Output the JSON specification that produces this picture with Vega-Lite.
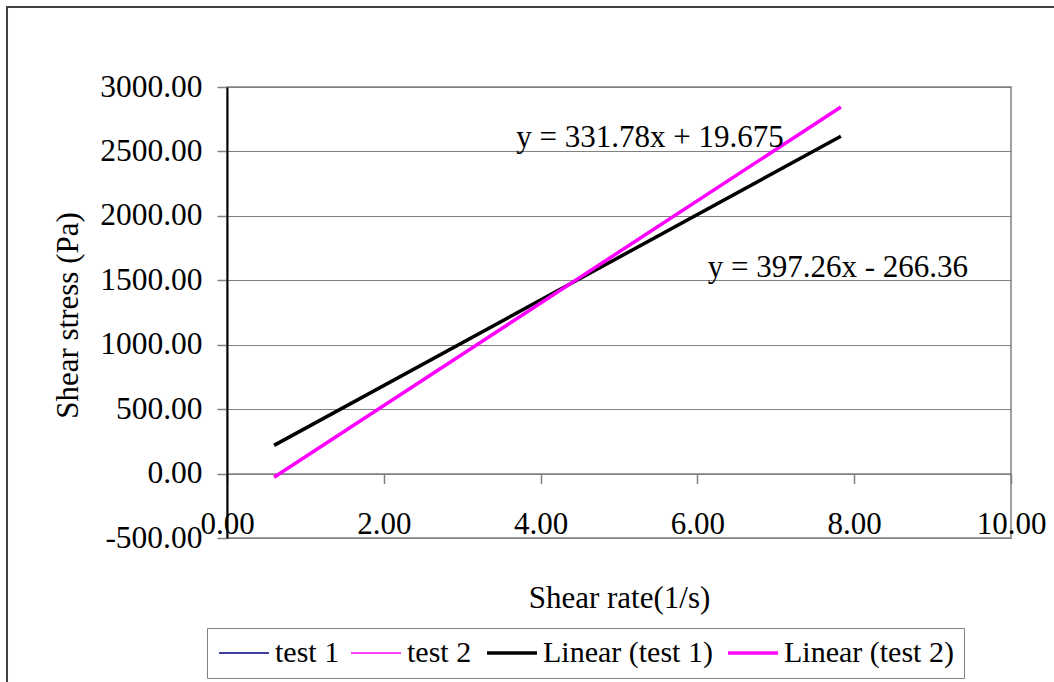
{
  "$schema": "https://vega.github.io/schema/vega-lite/v6.json",
  "width": 784,
  "height": 451,
  "autosize": {"type": "none"},
  "padding": {"left": 227, "top": 87, "right": 43, "bottom": 144},
  "background": "white",
  "config": {
    "view": {"stroke": "#808080", "strokeWidth": 1.5},
    "font": "Liberation Serif"
  },
  "datasets": {
    "trend": [
      {"series": "Linear (test 1)", "rate": 0.6, "stress": 218.7},
      {"series": "Linear (test 1)", "rate": 7.83, "stress": 2617.5},
      {"series": "Linear (test 2)", "rate": 0.6, "stress": -28.0},
      {"series": "Linear (test 2)", "rate": 7.83, "stress": 2844.2}
    ],
    "labels": [
      {"text": "y = 331.78x + 19.675", "rate": 5.395, "stress": 2534.6},
      {"text": "y = 397.26x - 266.36", "rate": 7.793, "stress": 1525.7}
    ]
  },
  "layer": [
    {
      "data": {"values": [{}]},
      "mark": {"type": "rect", "fillOpacity": 0, "stroke": "#404040", "strokeWidth": 2, "clip": false},
      "encoding": {
        "x": {"datum": -2.806, "type": "quantitative", "scale": {"domain": [0, 10], "nice": false}},
        "x2": {"datum": 11.5},
        "y": {"datum": 3621, "type": "quantitative"},
        "y2": {"datum": -1900}
      }
    },
    {
      "data": {"name": "trend"},
      "mark": {"type": "line", "strokeCap": "butt", "strokeWidth": 3.5},
      "encoding": {
        "x": {
          "field": "rate", "type": "quantitative",
          "scale": {"domain": [0, 10], "nice": false, "zero": false},
          "axis": {
            "orient": "bottom",
            "offset": -64.4,
            "values": [0, 2, 4, 6, 8, 10],
            "labelExpr": "replace(format(datum.value, '.2f'), '\u2212', '-')",
            "grid": false,
            "domainColor": "#808080",
            "domainWidth": 1.5,
            "tickColor": "#808080",
            "tickWidth": 1.5,
            "tickSize": 10,
            "labelFont": "Liberation Serif",
            "labelFontSize": 31,
            "labelColor": "black",
            "labelBaseline": "alphabetic",
            "labelPadding": 50,
            "labelFlush": false,
            "labelOverlap": false,
            "title": "Shear rate(1/s)",
            "titleFont": "Liberation Serif",
            "titleFontSize": 31,
            "titleFontWeight": "normal",
            "titleColor": "black",
            "titleBaseline": "alphabetic",
            "titleX": 392,
            "titleY": 133.4
          }
        },
        "y": {
          "field": "stress", "type": "quantitative",
          "scale": {"domain": [-500, 3000], "nice": false, "zero": false},
          "axis": {
            "values": [-500, 0, 500, 1000, 1500, 2000, 2500, 3000],
            "labelExpr": "replace(format(datum.value, '.2f'), '\u2212', '-')",
            "grid": true,
            "gridColor": "#808080",
            "gridWidth": 1.2,
            "domainColor": "black",
            "domainWidth": 2,
            "tickColor": "#808080",
            "tickWidth": 1.5,
            "tickSize": 10,
            "labelFont": "Liberation Serif",
            "labelFontSize": 31.5,
            "labelColor": "black",
            "labelPadding": 15,
            "labelOverlap": false,
            "labelFlush": false,
            "title": "Shear stress (Pa)",
            "titleFont": "Liberation Serif",
            "titleFontSize": 31,
            "titleFontWeight": "normal",
            "titleColor": "black",
            "titleBaseline": "alphabetic",
            "titleAngle": -90,
            "titleX": -150,
            "titleY": 228
          }
        },
        "color": {
          "field": "series", "type": "nominal",
          "scale": {
            "domain": ["test 1", "test 2", "Linear (test 1)", "Linear (test 2)"],
            "range": ["#000080", "#FF00FF", "#000000", "#FF00FF"]
          },
          "legend": {
            "orient": "none",
            "legendX": -20,
            "legendY": 541,
            "direction": "horizontal",
            "title": null,
            "strokeColor": "#808080",
            "fillColor": "white",
            "padding": 10,
            "symbolType": "stroke",
            "symbolSize": 2500,
            "symbolOffset": 12,
            "labelFont": "Liberation Serif",
            "labelFontSize": 30,
            "labelColor": "black",
            "labelLimit": 400,
            "labelOffset": 16,
            "columnPadding": 8,
            "encode": {
              "symbols": {
                "update": {
                  "strokeWidth": {"signal": "indexof(['test 1', 'test 2'], datum.value) >= 0 ? 1.5 : 3.5"}
                }
              }
            }
          }
        }
      }
    },
    {
      "data": {"name": "labels"},
      "mark": {"type": "text", "font": "Liberation Serif", "fontSize": 31, "color": "black", "align": "center", "baseline": "alphabetic"},
      "encoding": {
        "x": {"field": "rate", "type": "quantitative"},
        "y": {"field": "stress", "type": "quantitative"},
        "text": {"field": "text"}
      }
    }
  ]
}
